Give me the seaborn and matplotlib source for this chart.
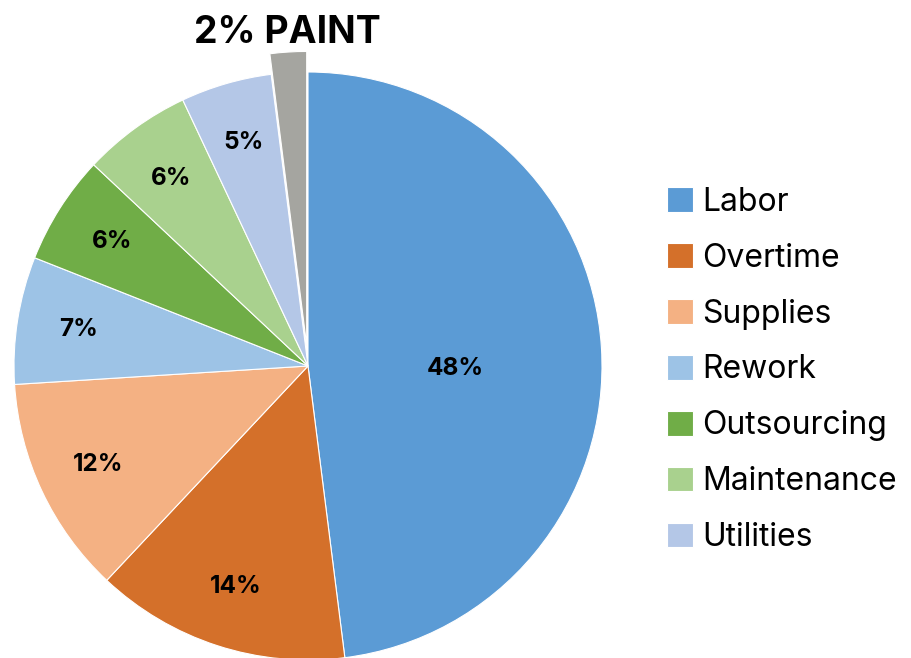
import matplotlib
matplotlib.use("Agg")
import matplotlib.pyplot as plt
import seaborn as sns
import numpy as np

categories = ["Labor", "Overtime", "Supplies", "Rework", "Outsourcing", "Maintenance", "Utilities", "Paint"]
values = [48, 14, 12, 7, 6, 6, 5, 2]
colors = ["#5B9BD5", "#D4702A", "#F4B183", "#9DC3E6", "#70AD47", "#A9D18E", "#B4C7E7", "#A5A5A0"]
explode_frac = [0, 0, 0, 0, 0, 0, 0, 0.07]

sns.set_theme(style="white")
plt.rcParams["font.family"] = ["Inter", "DejaVu Sans"]
plt.rcParams["text.color"] = "black"

W, H = 912, 658
fig = plt.figure(figsize=(W / 100, H / 100), dpi=100)
ax = fig.add_axes([0, 0, 1, 1])

cx, cy, R = 308, H - 366, 294

wedges, texts, autotexts = ax.pie(
    values, colors=colors, explode=[e * R for e in explode_frac], startangle=90, counterclock=False,
    center=(cx, cy), radius=R, autopct="%d%%", pctdistance=0.79,
    labels=[""] * 7 + ["2% PAINT"], labeldistance=1.065,
    wedgeprops=dict(edgecolor="white", linewidth=0.8), frame=True,
    textprops=dict(fontsize=17.5, fontweight="bold", color="black"),
)
ax.set_xlim(0, W)
ax.set_ylim(0, H)
ax.set_aspect("equal")
ax.axis("off")

# Labor label closer to center
autotexts[0].set_position((cx + 0.5 * R, cy - 0.01 * R))
# Paint percentage shown in outer label
autotexts[-1].set_text("")
texts[-1].set_fontsize(27)
texts[-1].set_ha("center")
texts[-1].set_va("center")

leg = ax.legend(wedges[:-1], categories[:-1], loc="center left", bbox_to_anchor=(667 / W, (H - 370) / H),
                frameon=False, fontsize=23, handlelength=0.8, handleheight=0.8,
                labelspacing=0.78, handletextpad=0.3, borderaxespad=0, borderpad=0)
for t in leg.get_texts():
    t.set_color("black")

fig.savefig("out.png", dpi=100)
